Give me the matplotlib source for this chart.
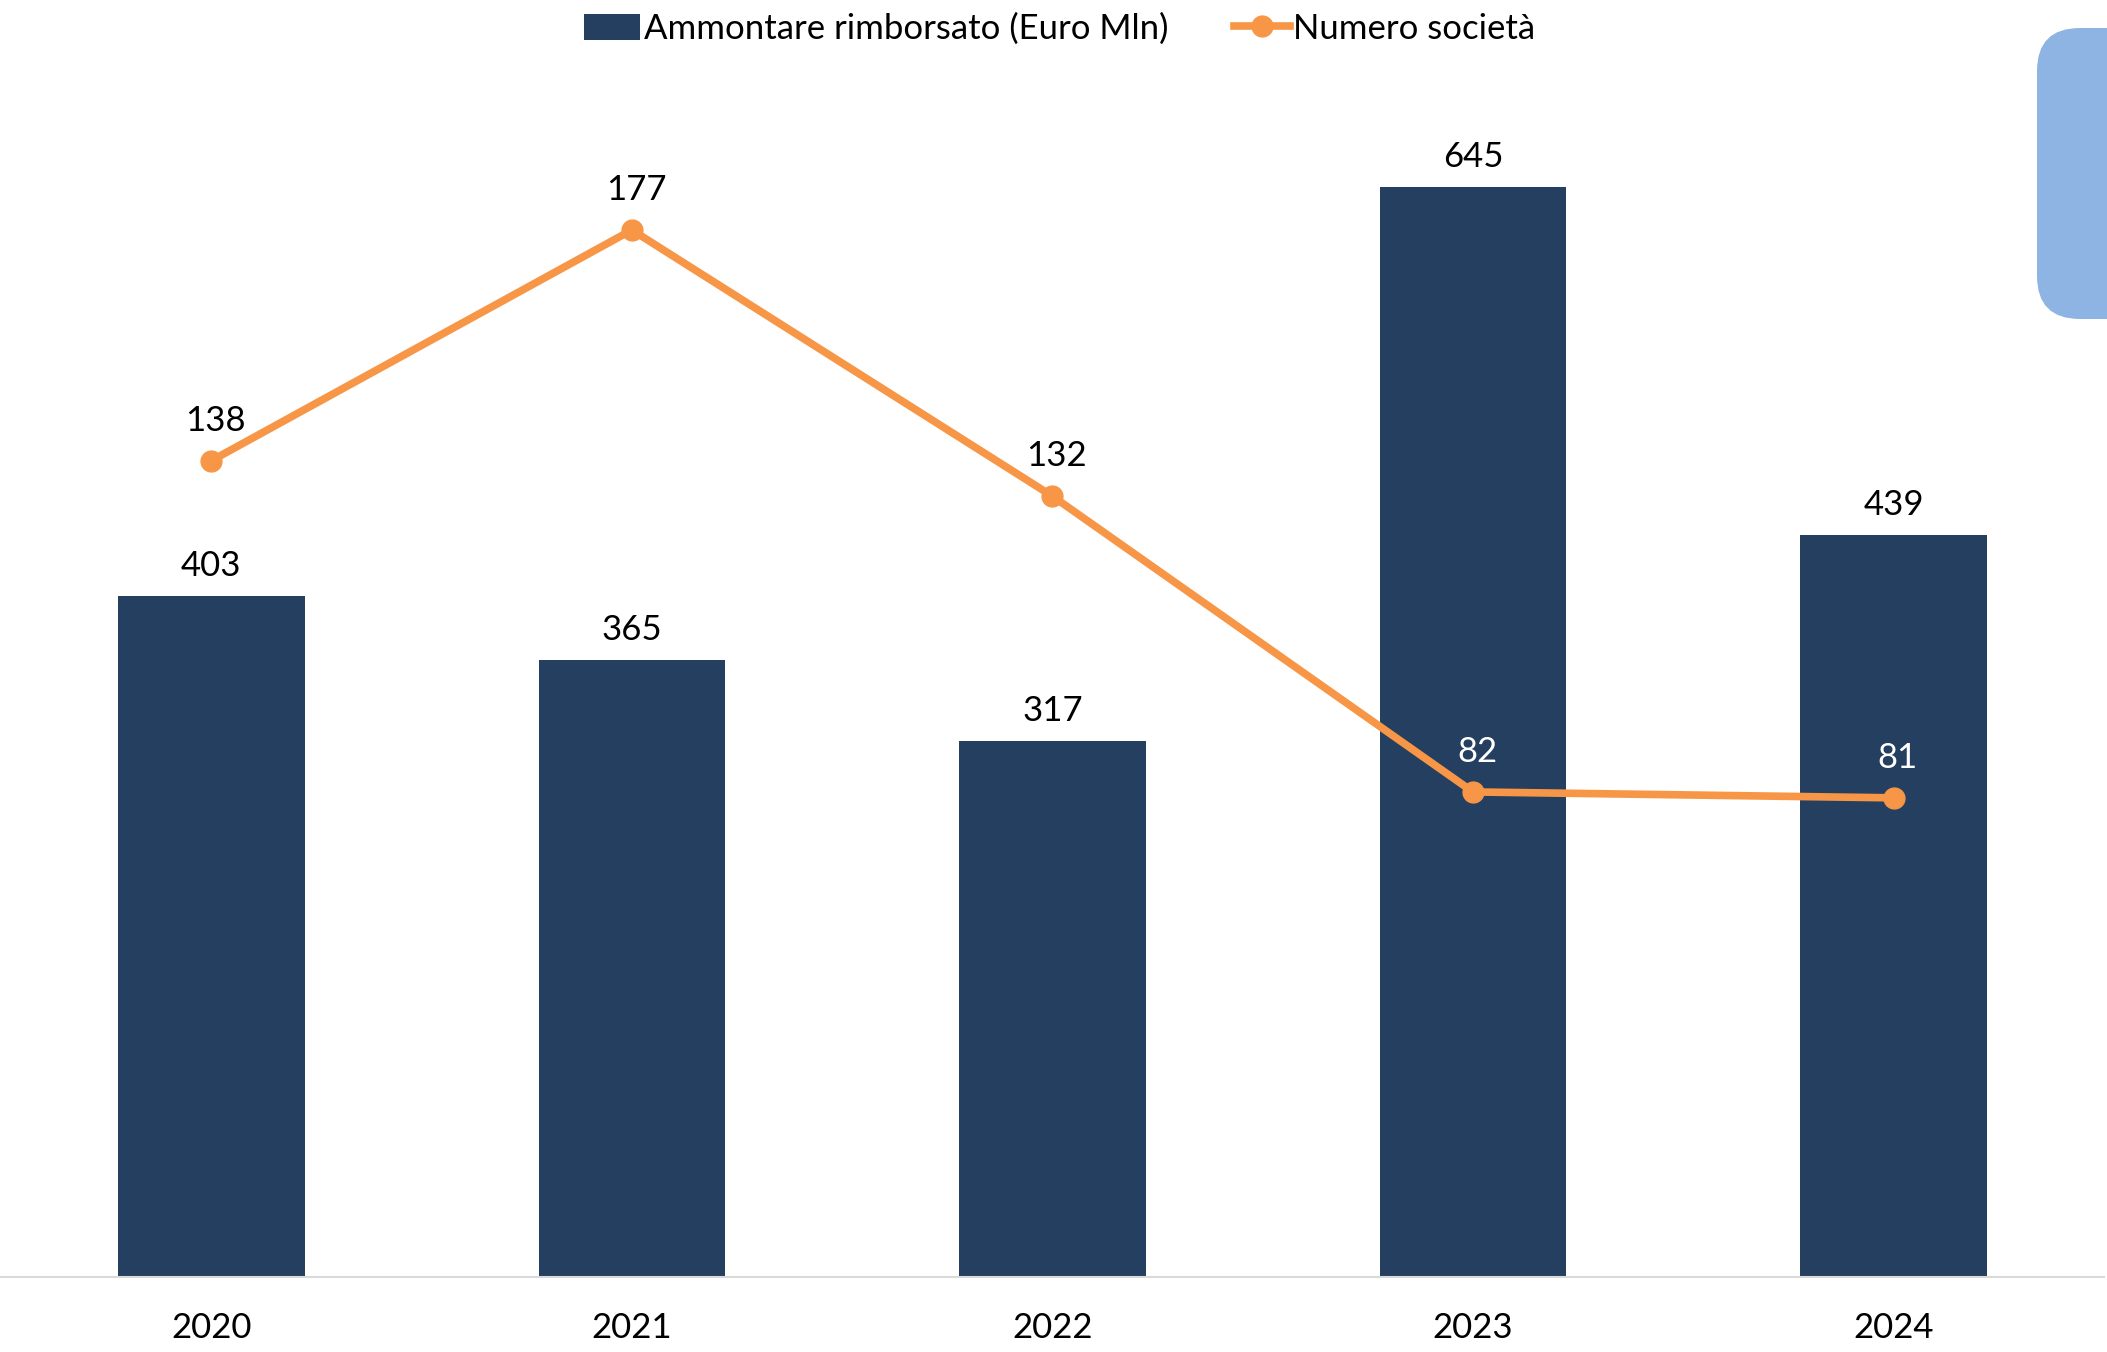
import matplotlib.pyplot as plt
import numpy as np
from matplotlib.patches import FancyBboxPatch, Patch
from matplotlib.lines import Line2D
from matplotlib.transforms import IdentityTransform

plt.rcParams["font.family"] = ["Lato", "DejaVu Sans"]

# data
years = ["2020", "2021", "2022", "2023", "2024"]
ammontare = [403, 365, 317, 645, 439]  # Euro Mln (bars)
societa = [138, 177, 132, 82, 81]  # number of companies (line)
societa_label_colors = ["black", "black", "black", "white", "white"]

BAR_COLOR = "#243F60"
LINE_COLOR = "#F79646"
FS = 25

fig = plt.figure(figsize=(21.07, 13.52), dpi=100)
ax = fig.add_axes([0.0005, 0.0555, 0.998, 0.875])
ax2 = ax.twinx()

x = np.arange(len(years))
ax.bar(x, ammontare, width=0.444, color=BAR_COLOR, zorder=2)
ax.set_xlim(-0.5, len(years) - 0.5)
ax.set_ylim(0, 700)

ax2.plot(x, societa, color=LINE_COLOR, lw=5.5, marker="o", markersize=15,
         solid_capstyle="round", zorder=3)
ax2.set_ylim(0, 200)

# bar labels
for xi, v in zip(x, ammontare):
    ax.annotate(str(v), (xi, v), xytext=(0, 30), textcoords="offset pixels",
                ha="center", va="center", fontsize=FS, color="black")

# line labels
for xi, v, c in zip(x, societa, societa_label_colors):
    ax2.annotate(str(v), (xi, v), xytext=(4, 40), textcoords="offset pixels",
                 ha="center", va="center", fontsize=FS, color=c)

for a in (ax, ax2):
    for s in ["top", "right", "left"]:
        a.spines[s].set_visible(False)
    a.set_yticks([])
ax2.spines["bottom"].set_visible(False)
ax.spines["bottom"].set_color("#D9D9D9")
ax.spines["bottom"].set_linewidth(1.5)
ax.set_xticks(x)
ax.set_xticklabels(years, fontsize=FS)
ax.tick_params(axis="x", length=0, pad=25)

handles = [
    Patch(facecolor=BAR_COLOR, label="Ammontare rimborsato (Euro Mln)"),
    Line2D([], [], color=LINE_COLOR, lw=5.5, marker="o", markersize=15,
           label="Numero società"),
]
fig.legend(handles=handles, loc="center", bbox_to_anchor=(0.503, 1 - 29 / 1352),
           ncol=2, frameon=False, fontsize=FS, handlelength=1.6,
           handleheight=0.8, handletextpad=0.1, columnspacing=1.9)

# rounded blue tab on the right edge (pixel coordinates)
tab = FancyBboxPatch((2037, 1352 - 319), 120, 291,
                     boxstyle="round,pad=0,rounding_size=43",
                     facecolor="#8EB4E3", edgecolor="none",
                     transform=IdentityTransform())
fig.add_artist(tab)

fig.savefig("out.png", dpi=100)
